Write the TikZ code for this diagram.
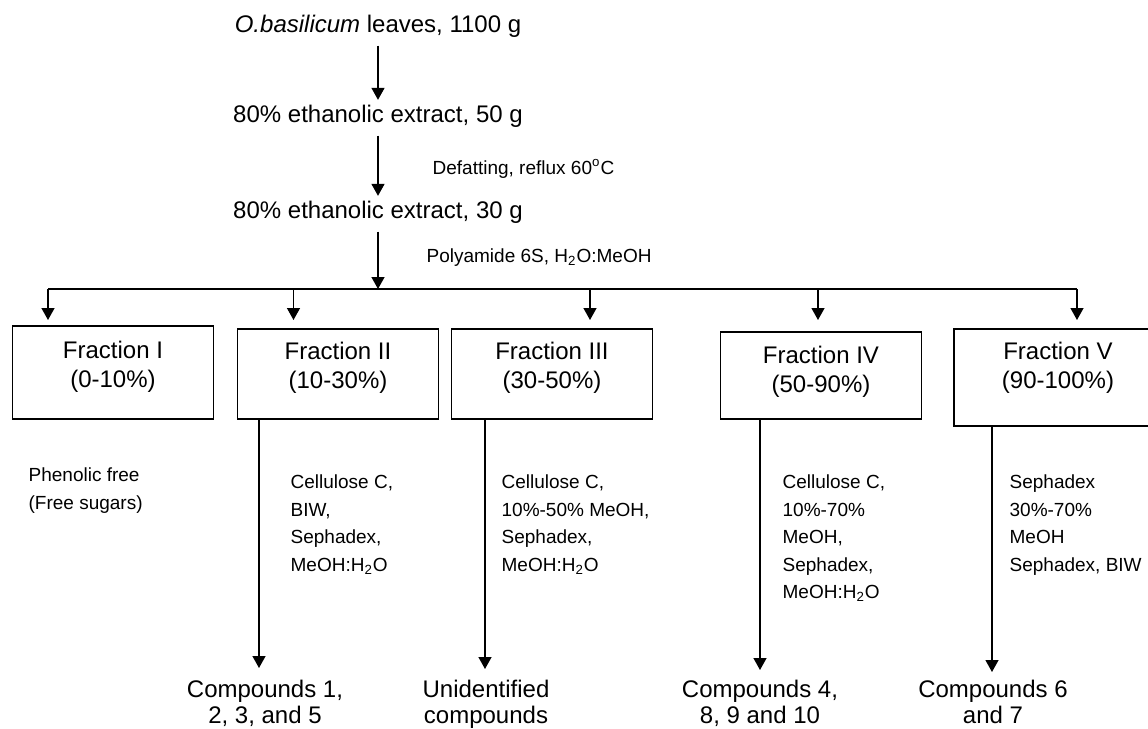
\documentclass[tikz,border=0pt]{standalone}
\usepackage{fontspec}
\setmainfont{Liberation Sans}
\usepackage{tikz}
\usetikzlibrary{arrows.meta,positioning}

\begin{document}
\begin{tikzpicture}[
  x=0.5pt,y=-0.5pt,
  line width=0.65pt,
  stage/.style={font=\fontsize{12}{14.5}\selectfont,inner sep=2pt,text height=8.75pt,text depth=4.5pt,anchor=base},
  frac/.style={draw,minimum width=100.5pt,inner sep=0pt},
  fractxt/.style={font=\fontsize{12}{14.5}\selectfont,align=center,inner sep=0pt},
  note/.style={font=\fontsize{9.5}{13.8}\selectfont,align=left,inner sep=0pt,anchor=north west},
  cmpd/.style={font=\fontsize{12}{13}\selectfont,align=center,inner sep=0pt,anchor=north},
  arr/.style={-{Triangle[length=6pt,width=6.5pt]}}
]
\useasboundingbox (0,0) rectangle (1148,729);
\fill[white] (0,0) rectangle (1148,729);
\clip (0,0) rectangle (1148,729);

% extraction steps
\node[stage] (leaves) at (378,32) {\textit{O.basilicum} leaves, 1100 g};
\node[stage] (ext50) at (378,122) {80\% ethanolic extract, 50 g};
\node[stage] (ext30) at (378,218) {80\% ethanolic extract, 30 g};
\draw[arr] (leaves.south) -- (ext50.north);
\draw[arr] (ext50.south) -- (ext30.north);
\node[note] (defat) at (432,159) {Defatting, reflux 60\textsuperscript{o}C};

% polyamide column
\coordinate (busL) at (48,289);
\coordinate (busR) at (1077,289);
\draw[arr] (ext30.south) -- (ext30.south |- busL);
\draw (busL) -- (busR);
\node[note] (poly) at (426,248) {Polyamide 6S, H\textsubscript{2}O:MeOH};
\foreach \i/\x in {1/48,2/293.5,3/590,4/818,5/1077}{
  \coordinate (tip\i) at (\x,320);
  \draw[arr] (tip\i |- busL) -- (tip\i);
}

% fractions
\node[frac,minimum height=46.5pt] (f1) at (113,372.5) {};
\node[frac,minimum height=45pt] (f2) at (338,374) {};
\node[frac,minimum height=45pt] (f3) at (552,374) {};
\node[frac,minimum height=43.5pt] (f4) at (821,375.5) {};
\node[frac,minimum width=104pt,minimum height=48.5pt] (f5) at (1058,377.5) {};
\node[fractxt,below=7.5pt of f1.north] (t1) {Fraction I\\(0-10\%)};
\node[fractxt,below=6.5pt of f2.north] (t2) {Fraction II\\(10-30\%)};
\node[fractxt,below=6.5pt of f3.north] (t3) {Fraction III\\(30-50\%)};
\node[fractxt,below=7pt of f4.north] (t4) {Fraction IV\\(50-90\%)};
\node[fractxt,below=6.5pt of f5.north] (t5) {Fraction V\\(90-100\%)};

% further separation
\coordinate (dn2) at (259,668);
\coordinate (dn3) at (485,669);
\coordinate (dn4) at (760,670);
\coordinate (dn5) at (992,672);
\draw[arr] (f2.south -| dn2) -- (dn2);
\draw[arr] (f3.south -| dn3) -- (dn3);
\draw[arr] (f4.south -| dn4) -- (dn4);
\draw[arr] (f5.south -| dn5) -- (dn5);

\node[note] (n1) at (28,467) {Phenolic free\\(Free sugars)};
\node[note] (n2) at (290,474) {Cellulose C,\\BIW,\\Sephadex,\\MeOH:H\textsubscript{2}O};
\node[note] (n3) at (501,474) {Cellulose C,\\10\%-50\% MeOH,\\Sephadex,\\MeOH:H\textsubscript{2}O};
\node[note] (n4) at (782,474) {Cellulose C,\\10\%-70\%\\MeOH,\\Sephadex,\\MeOH:H\textsubscript{2}O};
\node[note] (n5) at (1009,474) {Sephadex\\30\%-70\%\\MeOH\\Sephadex, BIW};

% compounds
\node[cmpd] (c2) at (265,679) {Compounds 1,\\2, 3, and 5};
\node[cmpd] (c3) at (486,679) {Unidentified\\compounds};
\node[cmpd] (c4) at (760,679) {Compounds 4,\\8, 9 and 10};
\node[cmpd] (c5) at (993,679) {Compounds 6\\and 7};
\end{tikzpicture}
\end{document}
